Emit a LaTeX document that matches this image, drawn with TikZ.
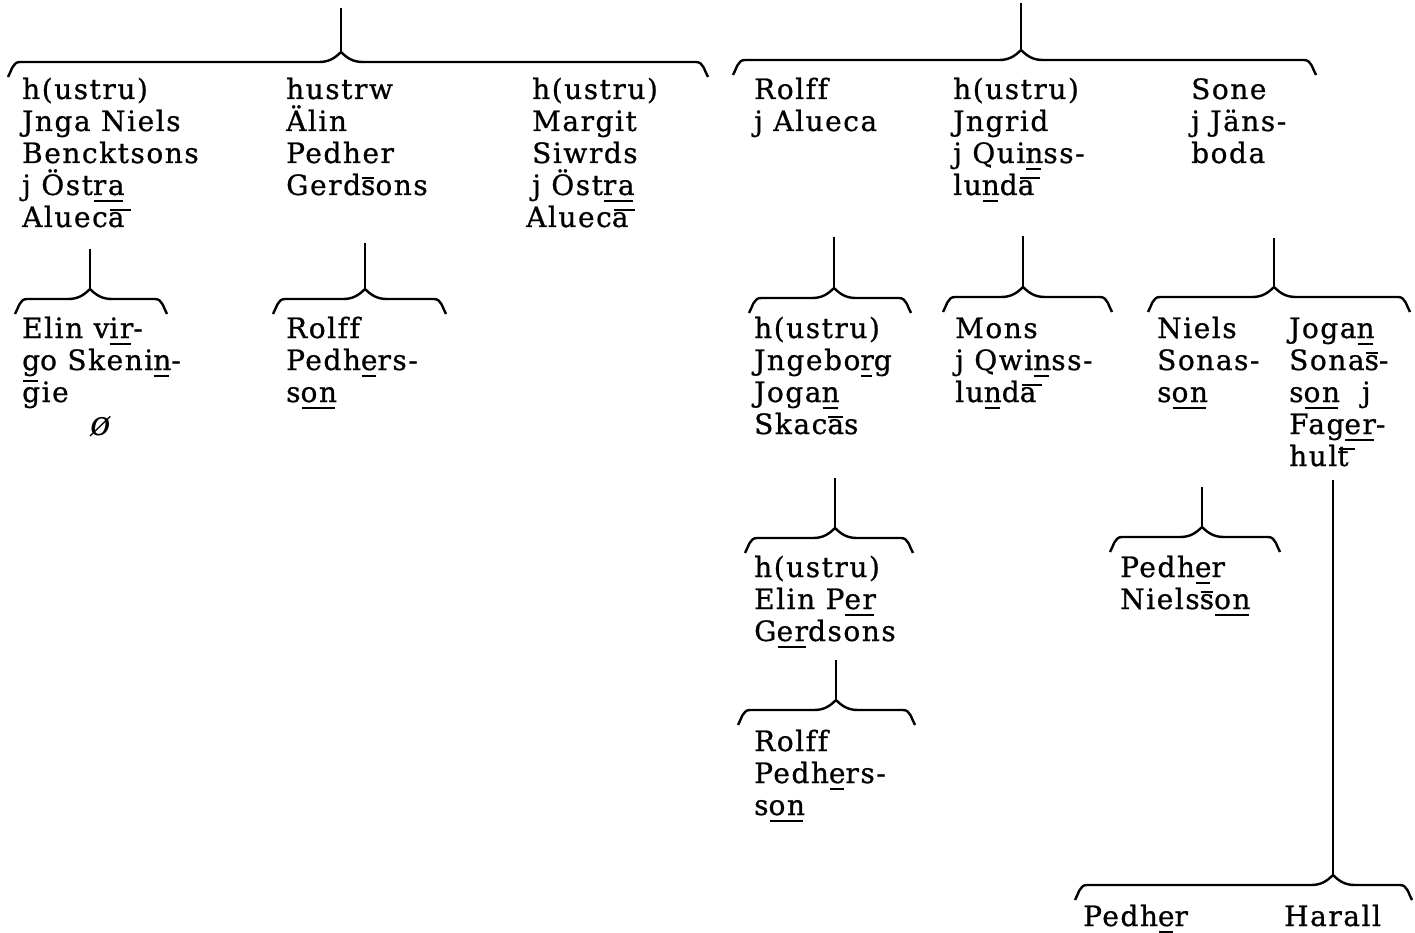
\documentclass[tikz,border=0pt]{standalone}
\usepackage{fontspec}
\setmainfont{DejaVu Serif}[LetterSpace=5.5,Ligatures=NoCommon,FakeBold=0.8]
\newfontfamily\slfont{DejaVu Serif}[ItalicFont={DejaVu Serif Italic}]
\newcommand\blk[1]{\vtop{\baselineskip=32pt\lineskiplimit=-100pt\halign{##\hfil\cr#1\crcr}}}
\newcommand\ub[1]{\setbox0=\hbox{#1}\rlap{\hspace{1pt}\rule[-7pt]{\dimexpr\wd0-3pt\relax}{2.4pt}}\box0}
\newcommand\ubg[1]{\setbox0=\hbox{#1}\rlap{\hspace{1pt}\rule[-12pt]{\dimexpr\wd0-3pt\relax}{2.4pt}}\box0}
\newcommand\ob[1]{\setbox0=\hbox{#1}\rlap{\hspace{1pt}\rule[16pt]{\dimexpr\wd0-2pt\relax}{2.4pt}}\box0}
\newcommand\obr[1]{\setbox0=\hbox{#1}\rlap{\hspace{2pt}\rule[16pt]{\dimexpr\wd0+4pt\relax}{2.4pt}}\box0}
\newcommand\fambrace[6]{%
  \coordinate (#1-t) at (#4,#6);
  \coordinate (#1-c) at (#4,#5-10);
  \coordinate (#1-l) at (#2,#5+15);
  \coordinate (#1-r) at (#3,#5+15);
  \draw[stemline] (#1-t) -- (#1-c);
  \draw[braceline] (#1-l) to[out=60,in=180] (#2+12,#5) -- (#4-22,#5)
     to[out=0,in=225] (#1-c) to[out=-45,in=180] (#4+22,#5) -- (#3-12,#5)
     to[out=0,in=120] (#1-r);
}
\begin{document}
\begin{tikzpicture}[x=1pt,y=-1pt,
  txt/.style={anchor=base west,inner sep=0pt,font=\fontsize{28}{32}\selectfont},
  stemline/.style={line width=2.2pt},
  braceline/.style={line width=2.4pt,line join=round}]
\useasboundingbox (0,0) rectangle (1415,933);
% braces
\fambrace{TL}{8}{708}{341}{62}{8}
\fambrace{TR}{733}{1316}{1021}{60}{3}
\fambrace{LA}{15}{167}{90}{299}{249}
\fambrace{LB}{273}{446}{365}{299}{243}
\fambrace{RA}{749}{911}{834}{298}{237}
\fambrace{RB}{943}{1112}{1023}{297}{236}
\fambrace{RC}{1148}{1410}{1274}{297}{238}
\fambrace{RD}{745}{913}{835}{538}{478}
\fambrace{RE}{738}{915}{836}{710}{660}
\fambrace{RF}{1110}{1280}{1202}{537}{487}
\fambrace{RG}{1075}{1412}{1333}{885}{480}
% texts
\node[txt] (tl1) at (22,99) {\blk{h(ustru)\cr Jnga Niels\cr Bencktsons\cr j Öst\ub{ra}\cr Aluec\obr{a}}};
\node[txt] (tl2) at (286,99) {\blk{hustrw\cr Älin\cr Pedher\cr Gerd\ob{s}ons}};
\node[txt] (tl3) at (532,99) {\blk{h(ustru)\cr Margit\cr Siwrds\cr j Öst\ub{ra}\cr \hspace*{-6pt}Aluec\obr{a}}};
\node[txt] (tr1) at (754,99) {\blk{Rolff\cr j Alueca}};
\node[txt] (tr2) at (953,99) {\blk{h(ustru)\cr Jngrid\cr j Qui\ub{n}ss-\cr lu\ub{n}d\obr{a}}};
\node[txt] (tr3) at (1191,99) {\blk{Sone\cr j Jäns-\cr boda}};
\node[txt] (l2a) at (22,338) {\blk{Elin v\ub{ir}-\cr \ubg{g}o Skeni\ub{n}-\cr gie}};
\node[txt,anchor=center,font=\fontsize{34}{34}\slfont\itshape] (phi) at (101,427) {ø};
\node[txt] (l2b) at (286,338) {\blk{Rolff\cr Pedh\ub{e}rs-\cr s\ub{on}}};
\node[txt] (r2a) at (754,338) {\blk{h(ustru)\cr Jngebo\ub{r}g\cr Joga\ub{n}\cr Skac\ob{a}s}};
\node[txt] (r2b) at (955,338) {\blk{Mons\cr j Qwi\ub{n}ss-\cr lu\ub{n}d\obr{a}}};
\node[txt] (r2c) at (1157,338) {\blk{Niels\cr Sonas-\cr s\ub{on}}};
\node[txt] (r2d) at (1289,338) {\blk{Joga\ub{n}\cr Sona\ob{s}-\cr s\ub{on}\hspace{22pt}j\cr Fag\ub{er}-\cr hul\obr{t}}};
\node[txt] (r3a) at (754,577) {\blk{h(ustru)\cr Elin P\ub{er}\cr G\ub{er}dsons}};
\node[txt] (r3b) at (1120,577) {\blk{Pedh\ub{e}r\cr Niels\ob{s}\ub{on}}};
\node[txt] (r4a) at (754,751) {\blk{Rolff\cr Pedh\ub{e}rs-\cr s\ub{on}}};
\node[txt] (b1) at (1083,926) {Pedh\ub{e}r};
\node[txt] (b2) at (1284,926) {Harall};
\end{tikzpicture}
\end{document}
